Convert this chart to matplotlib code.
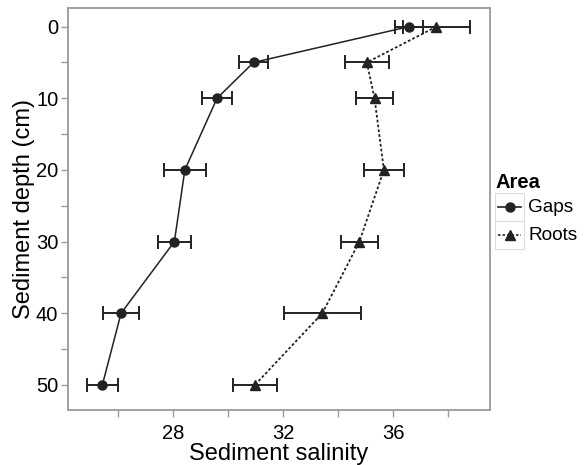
import matplotlib
matplotlib.use("Agg")
import matplotlib.pyplot as plt
from matplotlib.lines import Line2D
from matplotlib.patches import Rectangle

plt.rcParams["font.family"] = ["Liberation Sans", "DejaVu Sans"]

# Data
depths = [0, 5, 10, 20, 30, 40, 50]
gaps_salinity = [36.58, 30.93, 29.60, 28.43, 28.05, 26.11, 25.43]
gaps_err = [0.51, 0.53, 0.55, 0.76, 0.60, 0.65, 0.56]
roots_salinity = [37.58, 35.05, 35.33, 35.67, 34.78, 33.43, 30.98]
roots_err = [1.22, 0.80, 0.67, 0.73, 0.67, 1.40, 0.80]

x_major = [28, 32, 36]
x_minor = [26, 30, 34, 38]
y_major = [0, 10, 20, 30, 40, 50]
y_minor = [5, 15, 25, 35, 45]

W, H = 587, 465
LINE = "#222222"
FRAME = "#9a9a9a"
DOTTED = (0, (1.5, 1.2))

fig = plt.figure(figsize=(W / 100, H / 100), dpi=100)
ax = fig.add_axes([68 / W, 1 - 410 / H, (490 - 68) / W, (410 - 8) / H])

ax.errorbar(gaps_salinity, depths, xerr=gaps_err, color=LINE, lw=1.1,
            marker="o", ms=6.5, elinewidth=1.4, capsize=5, capthick=1.4, zorder=3)
ax.errorbar(roots_salinity, depths, xerr=roots_err, color=LINE, lw=1.3,
            ls=DOTTED, marker="^", ms=7.5, elinewidth=1.4,
            capsize=5, capthick=1.4, zorder=3)

ax.set_xlim(24.18, 39.53)
ax.set_ylim(53.5, -2.6)
ax.set_xticks(x_major)
ax.set_xticks(x_minor, minor=True)
ax.set_yticks(y_major)
ax.set_yticks(y_minor, minor=True)
ax.tick_params(which="both", direction="out", length=5, width=1, color=FRAME,
               labelsize=14.5, labelcolor="black")
ax.tick_params(axis="x", pad=5)
ax.tick_params(axis="y", pad=2)
for s in ax.spines.values():
    s.set_color(FRAME)
    s.set_linewidth(1.3)

ax.set_xlabel("Sediment salinity", fontsize=17, labelpad=0)
ax.set_ylabel("Sediment depth (cm)", fontsize=17, labelpad=1)


def px(x, y):
    return x / W, 1 - y / H


# legend drawn by hand so the key boxes look like the reference
fig.text(*px(495, 182), "Area", fontsize=14.5, fontweight="bold", va="center")
keys = [("Gaps", "o", "-", 207), ("Roots", "^", DOTTED, 235)]
for label, marker, ls, yc in keys:
    x0, y0 = px(495, yc + 14)
    fig.patches.append(Rectangle((x0, y0), 29 / W, 28 / H, transform=fig.transFigure,
                                 facecolor="white", edgecolor="#dddddd", lw=0.8))
    xa, ya = px(498, yc)
    xb, _ = px(521, yc)
    fig.lines.append(Line2D([xa, xb], [ya, ya], transform=fig.transFigure,
                            color=LINE, lw=1.2, ls=ls))
    fig.lines.append(Line2D([(xa + xb) / 2], [ya], transform=fig.transFigure,
                            color=LINE, marker=marker, ms=6.5, ls="none"))
    fig.text(*px(528, yc), label, fontsize=13.7, va="center")

fig.savefig("out.png", dpi=100)
